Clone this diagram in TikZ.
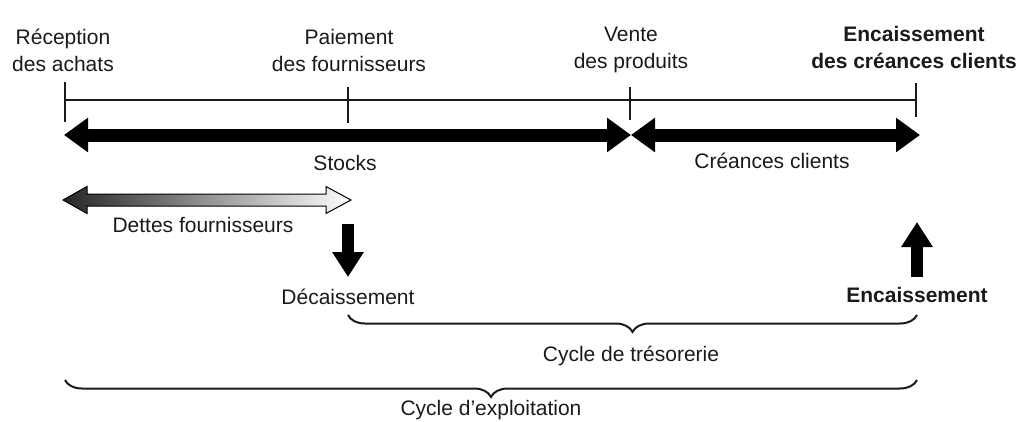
\documentclass[tikz,border=0pt]{standalone}
\usepackage{fontspec}
\setmainfont{Liberation Sans}
\usetikzlibrary{arrows.meta, calc, decorations.pathreplacing}
\definecolor{inkdark}{HTML}{1a1a1a}
\tikzset{
  lbl/.style={text=inkdark, font=\fontsize{21}{27}\selectfont, align=center, inner sep=0pt},
  ticklbl/.style={lbl},
  timeline/.style={draw=inkdark, line width=1.1pt},
  bigarrow/.style={draw=black, line width=13pt, {Triangle[length=24pt,width=33pt]}-{Triangle[length=24pt,width=33pt]}},
  cashflow/.style={draw=black, line width=12pt, -{Triangle[length=25pt,width=30pt]}},
  cyclebrace/.style={draw=inkdark, line width=2pt, decorate, decoration={brace, mirror, amplitude=17pt, aspect=0.5}}
}
\begin{document}
\begin{tikzpicture}[x=1pt, y=-1pt]
  \useasboundingbox (0,0) rectangle (1018,421);
  % events on the time line
  \coordinate (rec) at (65,100);
  \coordinate (pai) at (348,100);
  \coordinate (ven) at (630,100);
  \coordinate (enc) at (916,100);
  \node[ticklbl] (recLbl) at (63,50) {Réception\\des achats};
  \node[ticklbl] (paiLbl) at (349,50) {Paiement\\des fournisseurs};
  \node[ticklbl] (venLbl) at (631,50) {Vente\\des produits};
  \node[ticklbl, font=\fontsize{21}{27}\selectfont\bfseries] (encLbl) at (914,47) {Encaissement\\des créances clients};
  \draw[timeline] (rec) -- (enc);
  \draw[timeline] ($(rec)+(0,-18)$) -- ($(rec)+(0,22)$);
  \draw[timeline] ($(pai)+(0,-13)$) -- ($(pai)+(0,23)$);
  \draw[timeline] ($(ven)+(0,-13)$) -- ($(ven)+(0,20)$);
  \draw[timeline] ($(enc)+(0,-17)$) -- ($(enc)+(0,17)$);
  % stocks and customer receivables
  \draw[bigarrow] ($(rec)+(-1,35)$) -- ($(ven)+(1,35)$);
  \draw[bigarrow] ($(ven)+(1,35)$) -- ($(enc)+(4,35)$);
  \node[lbl] (stocks) at (345,163) {Stocks};
  \node[lbl] (creances) at (772,161) {Créances clients};
  % supplier debts
  \coordinate (dL) at (63,200);
  \coordinate (dR) at (351,200);
  \shade[draw=black, line width=1pt, left color=black!85, right color=white]
    (dL) -- ++(24,-13.5) -- ++(0,7.5) -- ($(dR)+(-25,-6)$) -- ++(0,-7.5) -- (dR)
    -- ++(-25,13.5) -- ++(0,-7.5) -- ($(dL)+(24,6)$) -- ++(0,7.5) -- cycle;
  \node[lbl] (dettes) at (203,225) {Dettes fournisseurs};
  % cash out and cash in
  \coordinate (decTop) at (348,224);
  \coordinate (decTip) at (348,277);
  \draw[cashflow] (decTop) -- (decTip);
  \node[lbl] (dec) at (348,297) {Décaissement};
  \coordinate (encBot) at (917,277);
  \coordinate (encTip) at (917,222);
  \draw[cashflow] (encBot) -- (encTip);
  \node[lbl, font=\fontsize{21}{27}\selectfont\bfseries] (encaiss) at (917,295) {Encaissement};
  % cycles
  \draw[cyclebrace] (348,315) -- (917,315);
  \node[lbl] (tresorerie) at (631,356) {Cycle de trésorerie};
  \draw[cyclebrace] (65,380) -- (917,380);
  \node[lbl] (exploitation) at (491,410) {Cycle d’exploitation};
\end{tikzpicture}
\end{document}
